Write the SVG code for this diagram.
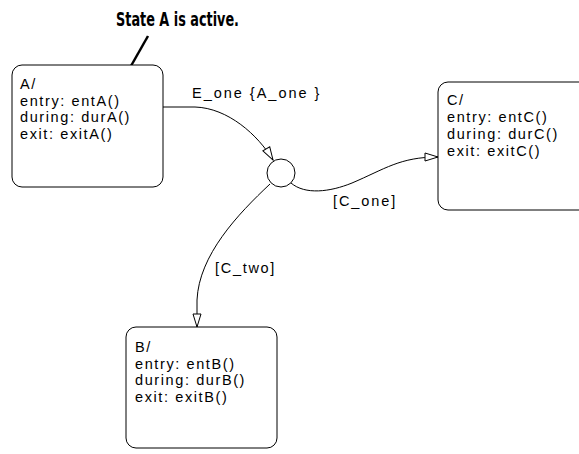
<svg xmlns="http://www.w3.org/2000/svg" width="579" height="454" viewBox="0 0 579 454">
  <style>
    .box { fill: #fff; stroke: #000; stroke-width: 1; }
    .t { font-family: "Liberation Sans", Arial, sans-serif; font-size: 14.5px; letter-spacing: 1.6px; fill: #000; }
    .conn { fill: none; stroke: #000; stroke-width: 1; }
    .note { font-family: "Liberation Sans Narrow", "DejaVu Sans Condensed", "Liberation Sans", sans-serif; font-size: 20px; font-weight: bold; fill: #000; }
  </style>
  <defs>
    <marker id="arr" markerUnits="userSpaceOnUse" markerWidth="16" markerHeight="12" refX="14" refY="5" orient="auto" overflow="visible">
      <path d="M1,1 L14,5 L1,9 Z" fill="#fff" stroke="#000" stroke-width="1"/>
    </marker>
  </defs>
  <rect width="579" height="454" fill="#fff"/>

  <g id="annotation">
    <text class="note" x="116" y="26" textLength="123" lengthAdjust="spacingAndGlyphs">State A is active.</text>
    <line x1="148" y1="36" x2="123" y2="80" stroke="#000" stroke-width="2.5"/>
  </g>

  <g id="connectors">
    <path class="conn" d="M163,107 L195,107 C228,108 258,135 273,160" marker-end="url(#arr)"/>
    <path class="conn" d="M291,183 C305,195 330,192 352,183 C385,169 400,157 438,157" marker-end="url(#arr)"/>
    <path class="conn" d="M270,184 C238,214 199,255 197,300 L197,327" marker-end="url(#arr)"/>
    <text class="t" x="192" y="98" textLength="129">E_one {A_one }</text>
    <text class="t" x="333" y="206" textLength="64">[C_one]</text>
    <text class="t" x="215" y="273" textLength="61">[C_two]</text>
  </g>

  <g id="stateA">
    <rect class="box" x="12" y="65" width="151" height="122" rx="10"/>
    <text class="t" x="20" y="89">A/</text>
    <text class="t" x="20" y="106">entry: entA()</text>
    <text class="t" x="20" y="122">during: durA()</text>
    <text class="t" x="20" y="139">exit: exitA()</text>
  </g>

  <g id="junction">
    <circle cx="281" cy="173" r="14" fill="#fff" stroke="#000" stroke-width="1"/>
  </g>

  <g id="stateC">
    <rect class="box" x="438" y="82" width="160" height="128" rx="10"/>
    <text class="t" x="447" y="105">C/</text>
    <text class="t" x="447" y="122">entry: entC()</text>
    <text class="t" x="447" y="139">during: durC()</text>
    <text class="t" x="447" y="156">exit: exitC()</text>
  </g>

  <g id="stateB">
    <rect class="box" x="126" y="327" width="151" height="121" rx="10"/>
    <text class="t" x="135" y="352">B/</text>
    <text class="t" x="135" y="369">entry: entB()</text>
    <text class="t" x="135" y="385">during: durB()</text>
    <text class="t" x="135" y="402">exit: exitB()</text>
  </g>
</svg>
